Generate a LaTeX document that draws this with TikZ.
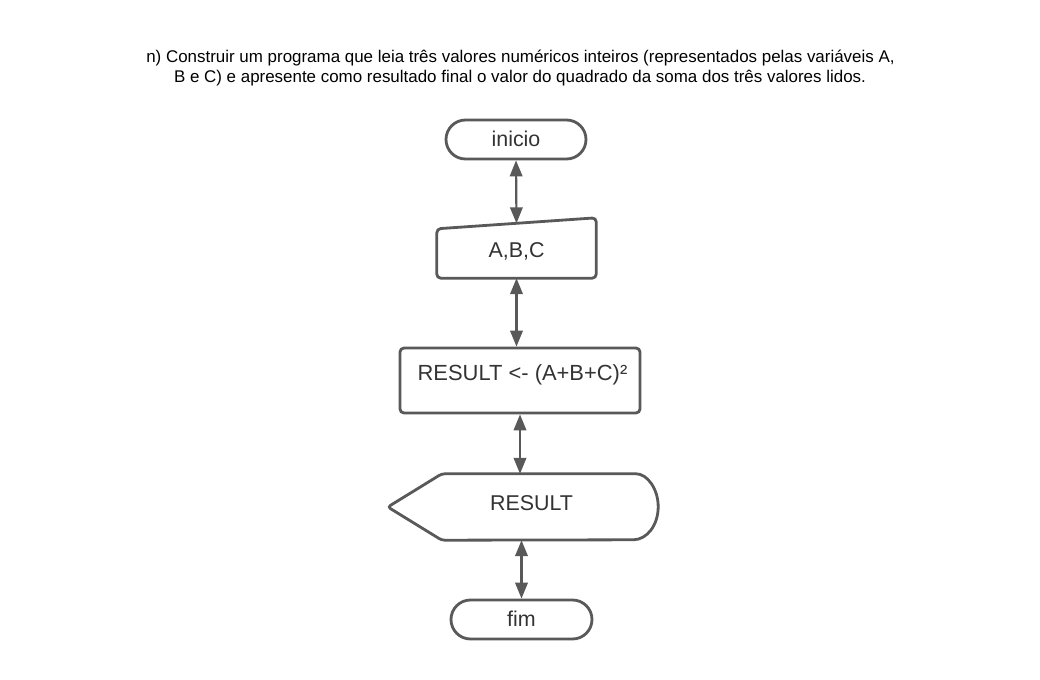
\documentclass[tikz,border=0pt]{standalone}
\usepackage{fontspec}
\setmainfont{Liberation Sans}
\usetikzlibrary{arrows.meta,shapes.misc,calc}
\definecolor{stroke}{HTML}{595959}
\definecolor{txt}{HTML}{333333}
\tikzset{
  shapeline/.style={draw=stroke, line width=2.8bp},
  term/.style={rounded rectangle, shapeline, minimum width=140bp, minimum height=39bp, inner sep=0pt, text=txt, font=\fontsize{21.5}{24}\selectfont},
  blank/.style={inner sep=0pt, text=txt, font=\fontsize{21.5}{24}\selectfont},
  titletext/.style={text=black, inner sep=0pt, anchor=base, font=\fontsize{17}{20}\selectfont},
  conn/.style={draw=stroke, line width=2.2bp, {Triangle[length=16bp 0 0,width=12.5bp 0 0]}-{Triangle[length=16bp 0 0,width=12.5bp 0 0]}},
}
\begin{document}
\begin{tikzpicture}[x=1bp,y=-1bp]
\useasboundingbox[fill=white] (0,0) rectangle (1040,680);
\node[titletext] (title1) at (520.5,63)
  {n) Construir um programa que leia três valores numéricos inteiros (representados pelas variáveis A,};
\node[titletext] (title2) at (520,83)
  {B e C) e apresente como resultado final o valor do quadrado da soma dos três valores lidos.};
% start
\node[term] (inicio) at (516,139.5) {\raisebox{1.5bp}{inicio}};
% manual input
\node[blank, minimum width=159bp, minimum height=60bp] (abc) at (516.5,248) {};
\draw[shapeline, rounded corners=4bp] (abc.south west) -- (abc.south east) -- (abc.north east) -- ($(abc.north west)+(0,11)$) -- cycle;
\node[blank] (abctxt) at (516.5,251) {A,B,C};
\coordinate (abctop) at ($(abc.north)+(0,5.5)$);
% process
\node[blank, shapeline, rounded corners=4bp, minimum width=240bp, minimum height=65bp] (proc) at (520,380.5) {};
\node[blank, font=\fontsize{22}{24}\selectfont] (proctxt) at (522.5,375) {RESULT <- (A+B+C)²};
% display
\node[blank, minimum width=270bp, minimum height=66bp] (disp) at (523,507) {};
\draw[shapeline, rounded corners=3bp] (disp.west) -- ($(disp.north west)+(54,0)$)
   -- ($(disp.north east)+(-25,0)$) [sharp corners] arc[start angle=90, end angle=-90, x radius=25bp, y radius=33bp]
   [rounded corners=3bp] -- ($(disp.south west)+(54,0)$) -- cycle;
\node[blank] (disptxt) at (531.5,503) {RESULT};
% end
\node[term, minimum width=141bp] (fim) at (521.5,619.5) {\raisebox{1.5bp}{fim}};
% connectors
\draw[conn] (inicio.south) -- (abctop);
\draw[conn] (abc.south) -- (abc.south |- proc.north);
\draw[conn] (proc.south) -- (proc.south |- disp.north);
\draw[conn] (fim.north |- disp.south) -- (fim.north);
\end{tikzpicture}
\end{document}
